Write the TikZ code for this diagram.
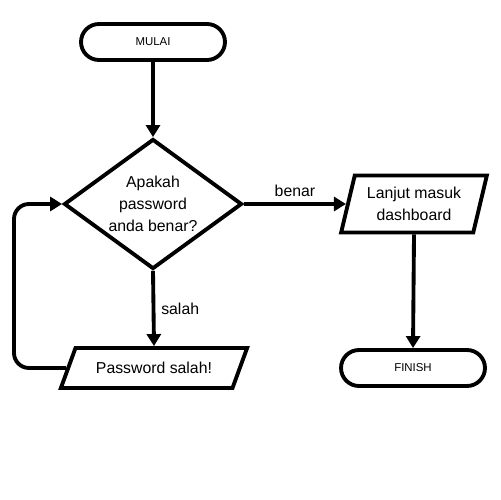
\documentclass[tikz,border=0pt]{standalone}
\usepackage{fontspec}
\setmainfont{Liberation Sans}
\usetikzlibrary{shapes.geometric,arrows.meta}
\begin{document}
\begin{tikzpicture}[x=0.02cm, y=-0.02cm,
        terminal/.style={draw, line width=2.2pt, rounded corners=0.36cm, minimum width=2.88cm, minimum height=0.72cm, font=\fontsize{6.5}{8}\selectfont},
        keputusan/.style={draw, diamond, line width=2.2pt, minimum width=3.56cm, minimum height=2.6cm, inner sep=0pt},
        data/.style={draw, trapezium, trapezium stretches=true, line width=2.2pt, align=center, font=\fontsize{9}{12.5}\selectfont},
        teks/.style={font=\fontsize{9}{12.5}\selectfont},
        alur/.style={line width=2.2pt, -{Triangle[length=0.24cm, width=0.28cm]}}]
            \useasboundingbox (0,0) rectangle (500,500);

            \node[terminal] (mulai) at (153,42) {MULAI};
            \node[keputusan, label={[teks, align=center]center:Apakah\\password\\anda benar?}] (tanya) at (153,204) {};
            \node[data, trapezium left angle=75, trapezium right angle=105, minimum width=2.92cm, minimum height=1.14cm] (lanjut) at (414,204) {Lanjut masuk\\dashboard};
            \node[terminal] (selesai) at (413,368) {FINISH};
            \node[data, trapezium left angle=63, trapezium right angle=117, minimum width=3.76cm, minimum height=0.8cm] (gagal) at (154,368) {Password salah!};
            \coordinate (belok) at (14,300);

            \draw[alur] (mulai.south) -- (tanya.north);
            \draw[alur] (tanya.east) -- node[teks, above] (lblbenar) {benar} (lanjut.west);
            \draw[alur] (lanjut.south) -- (selesai.north);
            \draw[alur] (tanya.south) -- node[teks, right] (lblsalah) {salah} (gagal.north);
            \draw[alur, rounded corners=0.3cm] (gagal.west) -| (belok) |- (tanya.west);
        \end{tikzpicture}
\end{document}
